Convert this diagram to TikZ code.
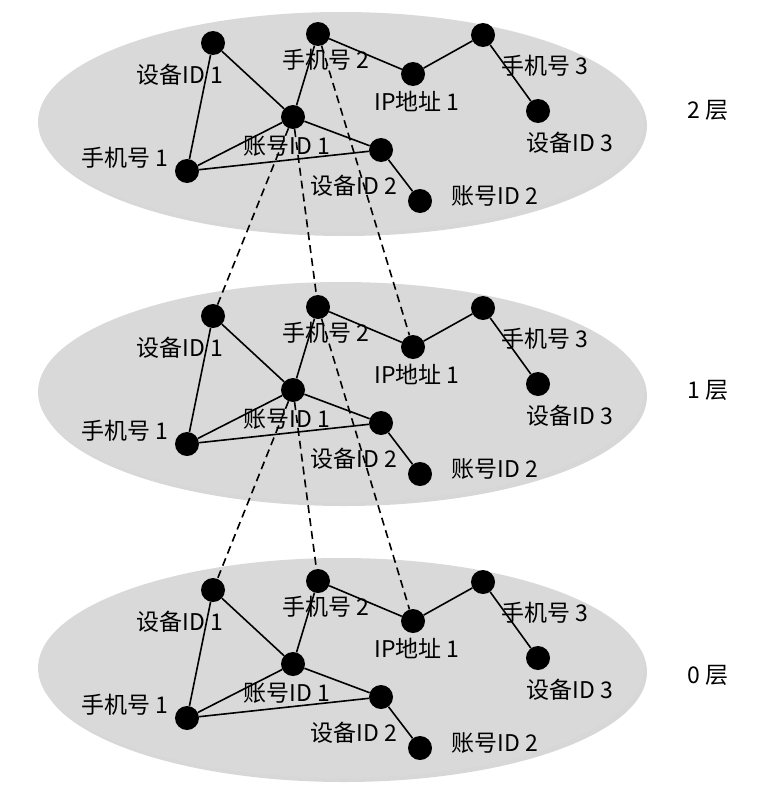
\documentclass[tikz,border=0pt]{standalone}
\usepackage{fontspec}
\setmainfont{Noto Sans CJK SC}
\usepackage{tikz}
\usetikzlibrary{shadows}
\definecolor{Layer_Gray}{HTML}{D9D9D9}
\definecolor{Shadow_Gray}{HTML}{9A9A9A}

\begin{document}
\begin{tikzpicture}[
    x=1pt, y=-1pt,
    dot/.style={circle, fill=black, minimum size=24pt, inner sep=0pt},
    tag/.style={font=\fontsize{23}{25}\selectfont, inner sep=0pt, anchor=center},
    link/.style={line width=1.6pt},
    jump/.style={line width=1.6pt, dash pattern=on 8pt off 5pt}
]
\useasboundingbox (0,0) rectangle (758,795);

% the three layers
\foreach \cy in {122, 392, 668} {
    \fill[Layer_Gray, drop shadow={shadow xshift=3pt, shadow yshift=-4pt, fill=Shadow_Gray, opacity=0.4}]
        (341,\cy) ellipse [x radius=303, y radius=110];
}

\foreach \l/\dy in {2/0, 1/273, 0/547} {
\begin{scope}[shift={(0,\dy)}]
\node[dot] (dev1-\l) at (213,43) {};
\node[dot] (phone2-\l) at (318,34) {};
\node[dot] (ip1-\l) at (413,74) {};
\node[dot] (phone3-\l) at (483,35) {};
\node[dot] (dev3-\l) at (538,111) {};
\node[dot] (acc1-\l) at (293,117) {};
\node[dot] (dev2-\l) at (381,150) {};
\node[dot] (acc2-\l) at (420,201) {};
\node[dot] (phone1-\l) at (187,171) {};

\node[tag] (dev1-tag-\l) at (180,75) {设备ID 1};
\node[tag] (phone2-tag-\l) at (326,60) {手机号 2};
\node[tag] (ip1-tag-\l) at (417,101) {IP地址 1};
\node[tag] (phone3-tag-\l) at (545,66) {手机号 3};
\node[tag] (dev3-tag-\l) at (570,143) {设备ID 3};
\node[tag] (acc1-tag-\l) at (287,146) {账号ID 1};
\node[tag] (dev2-tag-\l) at (354,186) {设备ID 2};
\node[tag] (acc2-tag-\l) at (495,196) {账号ID 2};
\node[tag] (phone1-tag-\l) at (125,158) {手机号 1};
\end{scope}

\draw[link] (dev1-\l) -- (phone1-\l);
\draw[link] (dev1-\l) -- (acc1-\l);
\draw[link] (phone2-\l) -- (acc1-\l);
\draw[link] (phone2-\l) -- (ip1-\l);
\draw[link] (ip1-\l) -- (phone3-\l);
\draw[link] (phone3-\l) -- (dev3-\l);
\draw[link] (acc1-\l) -- (phone1-\l);
\draw[link] (acc1-\l) -- (dev2-\l);
\draw[link] (phone1-\l) -- (dev2-\l);
\draw[link] (dev2-\l) -- (acc2-\l);
}

% links between layers
\foreach \up/\down in {2/1, 1/0} {
\draw[jump] (acc1-\up) -- (dev1-\down);
\draw[jump] (acc1-\up) -- (phone2-\down);
\draw[jump] (phone2-\up) -- (ip1-\down);
}

\node[tag] (level-2) at (708,110) {2 层};
\node[tag] (level-1) at (708,390) {1 层};
\node[tag] (level-0) at (708,675) {0 层};
\end{tikzpicture}
\end{document}
